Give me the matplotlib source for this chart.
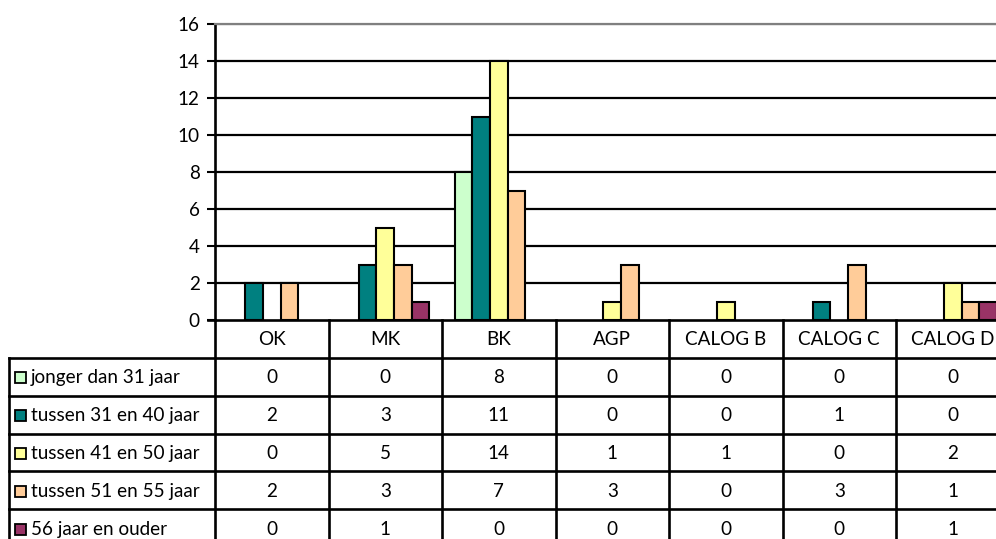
import matplotlib
matplotlib.use("Agg")
import matplotlib.pyplot as plt
import numpy as np

categories = ["OK", "MK", "BK", "AGP", "CALOG B", "CALOG C", "CALOG D"]
series_names = ["jonger dan 31 jaar", "tussen 31 en 40 jaar", "tussen 41 en 50 jaar",
                "tussen 51 en 55 jaar", "56 jaar en ouder"]
jonger_31 = [0, 0, 8, 0, 0, 0, 0]
tussen_31_40 = [2, 3, 11, 0, 0, 1, 0]
tussen_41_50 = [0, 5, 14, 1, 1, 0, 2]
tussen_51_55 = [2, 3, 7, 3, 0, 3, 1]
ouder_56 = [0, 1, 0, 0, 0, 0, 1]
series_values = [jonger_31, tussen_31_40, tussen_41_50, tussen_51_55, ouder_56]
colors = ["#CCFFCC", "#008080", "#FFFF99", "#FFCC99", "#993366"]
y_ticks = [0, 2, 4, 6, 8, 10, 12, 14, 16]

FONT = "Lato"
FS = 13.6
W, H = 996, 539
fig = plt.figure(figsize=(W / 100, H / 100), dpi=100)

# plot area in pixel coords
pl, pr, pt, pb = 215, 1009.5, 24, 320
ax = fig.add_axes([pl / W, (H - pb) / H, (pr - pl) / W, (pb - pt) / H])
n = len(categories)
bw = 0.155
x = np.arange(n)
for i, (vals, c) in enumerate(zip(series_values, colors)):
    off = (i - 2) * bw
    xs = [xi + off for xi, v in zip(x, vals) if v > 0]
    vs = [v for v in vals if v > 0]
    ax.bar(xs, vs, width=bw, color=c, edgecolor="black", linewidth=1.5, zorder=3)
ax.set_xlim(-0.5, n - 0.5)
ax.set_ylim(0, 16)
ax.set_yticks(y_ticks)
ax.set_yticklabels([str(t) for t in y_ticks], fontfamily=FONT, fontsize=FS)
ax.tick_params(axis="y", length=6, width=1.5, pad=5)
ax.set_xticks([])
ax.set_axisbelow(True)
ax.yaxis.grid(True, color="black", linewidth=1.6)
gls = ax.get_ygridlines()
gls[-1].set_color("#808080")
gls[0].set_visible(False)
ax.spines["top"].set_color("#808080")
ax.spines["top"].set_linewidth(1.6)
ax.spines["right"].set_visible(False)
ax.spines["left"].set_linewidth(1.9)
ax.spines["bottom"].set_linewidth(1.9)

# data table drawn in pixel coordinates
tl, tt, tb = 9, 320, 547
tax = fig.add_axes([0, 0, 1, 1], zorder=5)
tax.set_xlim(0, W)
tax.set_ylim(H, 0)
tax.axis("off")
tax.patch.set_alpha(0)
colw = (pr - pl) / n
rowh = (tb - tt) / 6
lw = 1.9
# vertical lines
for j in range(n + 1):
    xv = pl + j * colw
    tax.plot([xv, xv], [tt, tb], color="black", lw=lw)
tax.plot([tl, tl], [tt + rowh, tb], color="black", lw=lw)
tax.plot([208, pl], [tt, tt], color="black", lw=lw)
# horizontal lines
for r in range(1, 7):
    yv = tt + r * rowh
    tax.plot([tl, pr], [yv, yv], color="black", lw=lw)
# header
for j, cat in enumerate(categories):
    tax.text(pl + (j + 0.5) * colw, tt + rowh / 2 + 1, cat, ha="center", va="center",
             fontfamily=FONT, fontsize=FS)
for r, (name, vals, c) in enumerate(zip(series_names, series_values, colors)):
    yc = tt + (r + 1.5) * rowh + 1
    tax.add_patch(plt.Rectangle((15, yc - 5.5), 11, 11, facecolor=c, edgecolor="black", lw=1.3))
    tax.text(31, yc, name, ha="left", va="center", fontfamily=FONT, fontsize=FS)
    for j, v in enumerate(vals):
        tax.text(pl + (j + 0.5) * colw, yc, str(v), ha="center", va="center",
                 fontfamily=FONT, fontsize=FS)

fig.savefig("out.png", dpi=100)
